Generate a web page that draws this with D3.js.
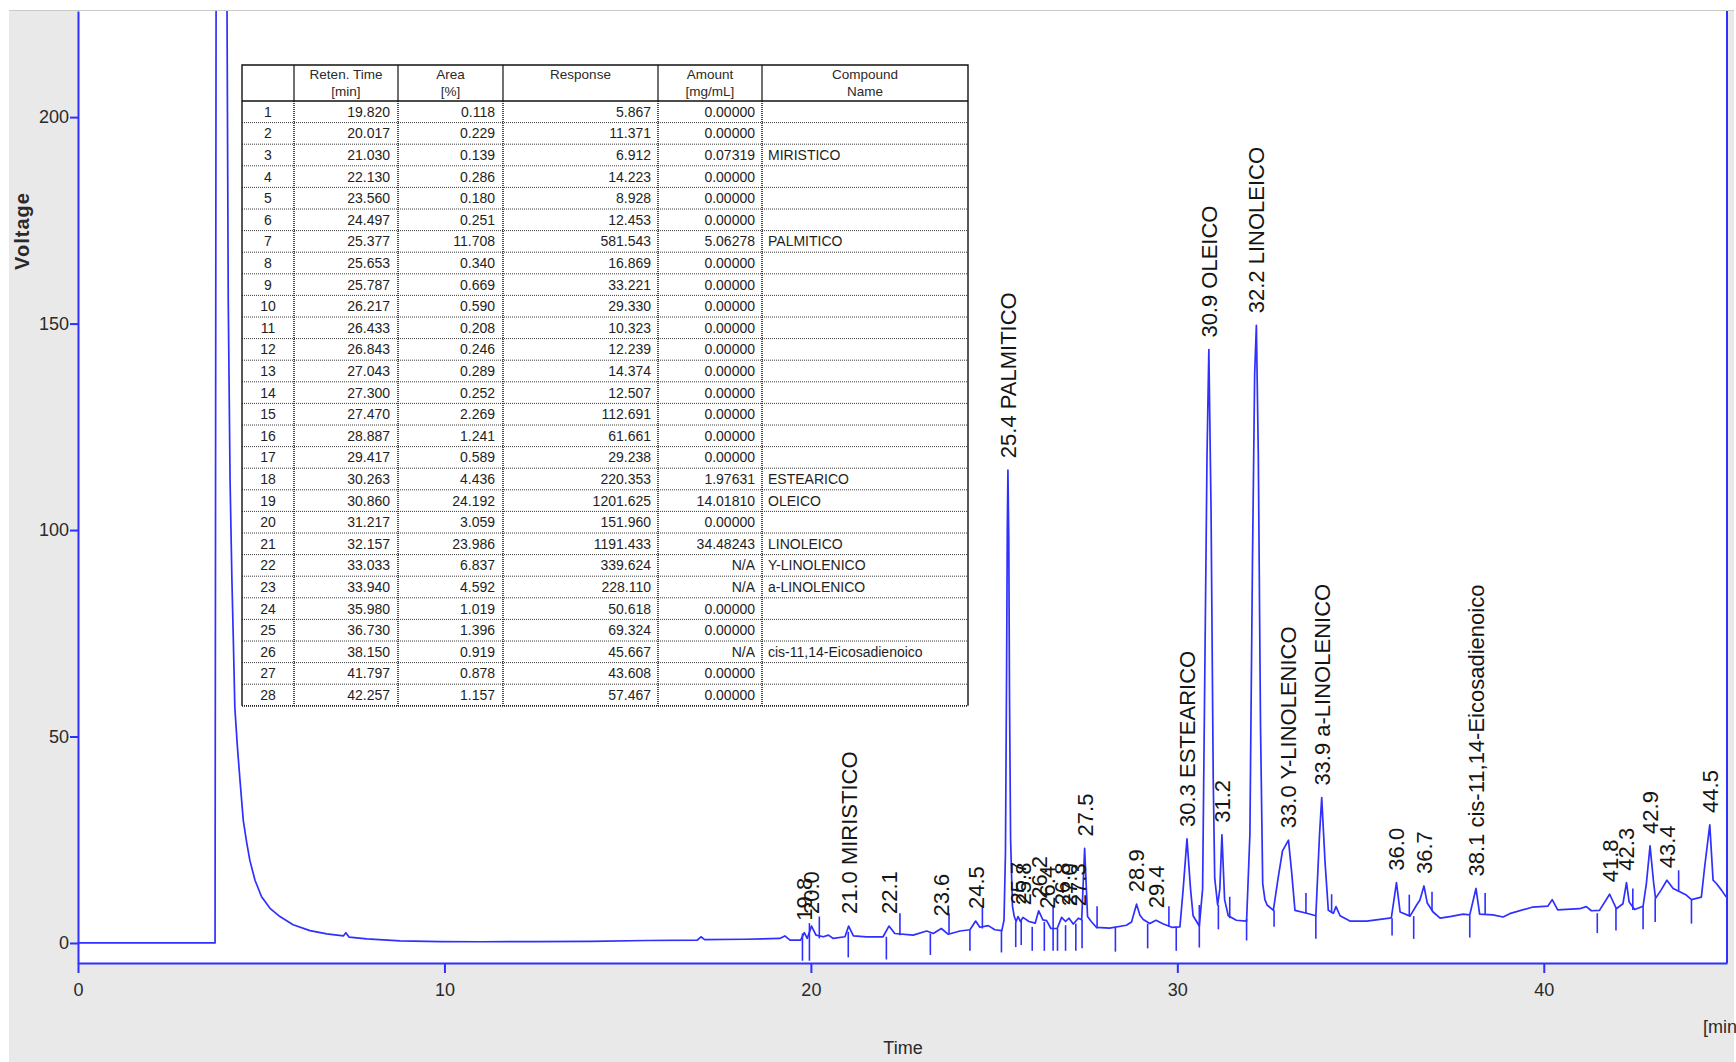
<!DOCTYPE html>
<html>
<head>
<meta charset="utf-8">
<script src="https://cdn.jsdelivr.net/npm/d3@7"></script>
<style>
  html, body { margin: 0; padding: 0; background: #ffffff; }
  svg { display: block; }
</style>
</head>
<body>
<svg id="chart" width="1736" height="1062"></svg>
<script>
// ---- Chromatogram trace: [retention time (min), detector voltage] ----
const trace = [
  [0.0, 0.0], [3.74, 0.0],
  [3.77, 240], [4.06, 240],            // solvent front, off scale
  [4.10, 156], [4.15, 112], [4.20, 88], [4.24, 73], [4.28, 57], [4.35, 47.5],
  [4.42, 39.5], [4.51, 29.7], [4.60, 24.5], [4.69, 20.0], [4.83, 15.2], [5.01, 11.2],
  [5.24, 8.4], [5.51, 6.4], [5.87, 4.4], [6.33, 3.0], [6.79, 2.2], [7.24, 1.7],
  [7.31, 2.5], [7.40, 1.4], [7.88, 1.0], [8.79, 0.5], [9.88, 0.35], [11.0, 0.3],
  [12.5, 0.35], [14.0, 0.4], [15.5, 0.6], [16.9, 0.7], [17.0, 1.5], [17.1, 0.8],
  [18.2, 0.9], [19.15, 1.1], [19.29, 1.7], [19.43, 0.7], [19.72, 0.7], [19.82, 2.5],
  [19.90, 1.1], [20.017, 4.1], [20.14, 1.9], [20.34, 1.5], [20.48, 1.9], [20.61, 1.1],
  [20.93, 1.5], [21.03, 4.1], [21.16, 1.7], [21.52, 1.5], [21.97, 1.5], [22.13, 4.1],
  [22.29, 2.3], [22.79, 1.9], [23.16, 2.9], [23.34, 2.3], [23.56, 3.5], [23.75, 2.1],
  [24.07, 2.9], [24.34, 3.2], [24.497, 5.3], [24.61, 3.8], [24.84, 4.2], [25.02, 3.2],
  [25.21, 3.0], [25.27, 5.5], [25.31, 22], [25.34, 65], [25.36, 100], [25.377, 114.5],
  [25.40, 98], [25.42, 60], [25.45, 25], [25.50, 9], [25.55, 6.4], [25.60, 5.2],
  [25.653, 6.4], [25.72, 5.2], [25.787, 6.2], [25.95, 5.2], [26.12, 4.8], [26.217, 7.8],
  [26.33, 5.6], [26.433, 5.4], [26.55, 3.5], [26.72, 3.5], [26.843, 6.2], [26.95, 5.2],
  [27.043, 6.0], [27.16, 4.6], [27.30, 6.0], [27.39, 5.6], [27.47, 22.9], [27.55, 6.4],
  [27.65, 5.2], [27.79, 3.8], [28.15, 3.6], [28.61, 4.3], [28.75, 5.1], [28.887, 9.4],
  [28.98, 6.7], [29.07, 5.7], [29.25, 4.7], [29.417, 5.5], [29.62, 4.6], [29.85, 3.8],
  [30.07, 3.9], [30.16, 13.1], [30.263, 25.2], [30.36, 13.1], [30.43, 6.6], [30.60, 4.1],
  [30.69, 13.1], [30.75, 65.6], [30.81, 118], [30.86, 143.7], [30.92, 105], [30.98, 39.4],
  [31.02, 15.7], [31.10, 9.2], [31.16, 13.1], [31.217, 26.2], [31.29, 10.5], [31.39, 6.6],
  [31.61, 5.5], [31.89, 5.3], [31.98, 26.2], [32.05, 91.9], [32.11, 137.8], [32.157, 149.6],
  [32.21, 118], [32.27, 52.5], [32.33, 14.4], [32.39, 10.5], [32.45, 9.2], [32.62, 7.9],
  [32.75, 15.7], [32.87, 22.3], [33.033, 24.9], [33.12, 17.1], [33.21, 7.9], [33.53, 7.2],
  [33.78, 6.6], [33.88, 26.2], [33.94, 35.2], [34.03, 19.7], [34.12, 7.9], [34.26, 7.2],
  [34.33, 8.8], [34.44, 6.6], [34.71, 5.3], [35.17, 5.3], [35.84, 6.1], [35.98, 14.6],
  [36.08, 7.5], [36.35, 6.5], [36.53, 9.2], [36.62, 10.4], [36.73, 13.8], [36.82, 9.7],
  [36.98, 7.5], [37.17, 6.0], [37.44, 6.4], [37.80, 7.0], [37.98, 6.8], [38.15, 13.2],
  [38.25, 7.0], [38.61, 6.8], [38.89, 6.3], [39.07, 7.1], [39.70, 8.7], [40.11, 8.9],
  [40.23, 10.5], [40.38, 8.0], [40.98, 8.3], [41.16, 8.8], [41.30, 7.8], [41.52, 7.9],
  [41.797, 11.8], [41.98, 8.3], [42.16, 9.5], [42.257, 14.6], [42.33, 9.9], [42.48, 8.1],
  [42.71, 8.9], [42.80, 14.4], [42.90, 23.5], [43.00, 14.4], [43.05, 10.8], [43.20, 12.8],
  [43.36, 15.2], [43.53, 13.2], [43.71, 12.4], [43.89, 11.6], [44.03, 10.5], [44.30, 11.1],
  [44.39, 18.4], [44.53, 28.6], [44.62, 15.2], [44.71, 14.4], [44.85, 12.8], [44.98, 11.1]
];

// ---- Integration boundary markers: [time, upper voltage, lower voltage] ----
const boundaryMarks = [
  [19.77, 2.3, -4.3], [19.96, 4.8, -4.3], [20.23, 6.4, 1.1], [21.02, 2.7, -3.5],
  [22.06, 1.5, -4.0], [22.43, 7.2, 1.9], [23.26, 2.3, -2.9], [23.77, 7.2, 2.3],
  [24.34, 3.1, -1.9], [24.68, 8.6, 3.5], [25.20, 3.1, -2.3], [25.59, 5.1, -1.0],
  [25.74, 5.6, -0.5], [26.04, 3.9, -1.9], [26.37, 5.1, -1.9], [26.61, 8.8, -1.9],
  [26.73, 3.5, -1.9], [26.95, 4.3, -1.9], [27.23, 4.7, -1.9], [27.40, 5.6, -1.3],
  [27.81, 8.9, 3.5], [28.31, 3.8, -2.1], [29.19, 4.7, -1.3], [29.77, 8.9, 3.9],
  [29.97, 3.9, -1.9], [30.60, 9.2, -1.1], [31.12, 9.2, 3.3], [31.43, 11.2, 6.0],
  [31.89, 5.8, 0.6], [32.64, 7.9, 3.9], [33.51, 12.1, 7.2], [33.78, 6.6, 1.0],
  [34.21, 11.8, 7.2], [35.86, 6.0, 1.8], [36.33, 11.7, 6.5], [36.45, 6.5, 1.0],
  [36.95, 12.4, 7.7], [37.98, 6.7, 1.3], [38.40, 12.1, 6.8], [41.46, 7.2, 2.4],
  [41.97, 8.4, 3.0], [42.43, 13.2, 8.0], [42.71, 8.9, 3.3], [43.04, 10.8, 5.1],
  [43.68, 17.6, 12.4], [44.03, 10.5, 4.7]
];

// ---- Peak annotations ----
const peakTimes = [19.820, 20.017, 21.030, 22.130, 23.560, 24.497, 25.377, 25.653, 25.787,
  26.217, 26.433, 26.843, 27.043, 27.300, 27.470, 28.887, 29.417, 30.263, 30.860, 31.217,
  32.157, 33.033, 33.940, 35.980, 36.730, 38.150, 41.797, 42.257, 42.90, 43.36, 44.53];
const peakTexts = ["19.8", "20.0", "21.0 MIRISTICO", "22.1", "23.6", "24.5", "25.4 PALMITICO",
  "25.7", "25.8", "26.2", "26.4", "26.8", "27.0", "27.3", "27.5", "28.9", "29.4",
  "30.3 ESTEARICO", "30.9 OLEICO", "31.2", "32.2 LINOLEICO", "33.0 Y-LINOLENICO",
  "33.9 a-LINOLENICO", "36.0", "36.7", "38.1 cis-11,14-Eicosadienoico", "41.8", "42.3",
  "42.9", "43.4", "44.5"];

// ---- Axis ticks ----
const xTicks = [0, 10, 20, 30, 40];
const yTicks = [0, 50, 100, 150, 200];
const xDomain = [0, 45];
const yDomain = [-4.85, 225.7];

// ---- Peak table ----
const tableHeaders = [["", ""], ["Reten. Time", "[min]"], ["Area", "[%]"], ["Response", ""],
  ["Amount", "[mg/mL]"], ["Compound", "Name"]];
const retTimes = [19.820, 20.017, 21.030, 22.130, 23.560, 24.497, 25.377, 25.653, 25.787, 26.217,
  26.433, 26.843, 27.043, 27.300, 27.470, 28.887, 29.417, 30.263, 30.860, 31.217, 32.157, 33.033,
  33.940, 35.980, 36.730, 38.150, 41.797, 42.257];
const areaPct = [0.118, 0.229, 0.139, 0.286, 0.180, 0.251, 11.708, 0.340, 0.669, 0.590, 0.208,
  0.246, 0.289, 0.252, 2.269, 1.241, 0.589, 4.436, 24.192, 3.059, 23.986, 6.837, 4.592, 1.019,
  1.396, 0.919, 0.878, 1.157];
const responses = [5.867, 11.371, 6.912, 14.223, 8.928, 12.453, 581.543, 16.869, 33.221, 29.330,
  10.323, 12.239, 14.374, 12.507, 112.691, 61.661, 29.238, 220.353, 1201.625, 151.960, 1191.433,
  339.624, 228.110, 50.618, 69.324, 45.667, 43.608, 57.467];
const amounts = ["0.00000", "0.00000", "0.07319", "0.00000", "0.00000", "0.00000", "5.06278",
  "0.00000", "0.00000", "0.00000", "0.00000", "0.00000", "0.00000", "0.00000", "0.00000",
  "0.00000", "0.00000", "1.97631", "14.01810", "0.00000", "34.48243", "N/A", "N/A", "0.00000",
  "0.00000", "N/A", "0.00000", "0.00000"];
const compoundNames = ["", "", "MIRISTICO", "", "", "", "PALMITICO", "", "", "", "", "", "", "",
  "", "", "", "ESTEARICO", "OLEICO", "", "LINOLEICO", "Y-LINOLENICO", "a-LINOLENICO", "", "",
  "cis-11,14-Eicosadienoico", "", ""];

// ================= drawing =================
const svg = d3.select("#chart");
const W = 1736, H = 1062;
const plot = { left: 78, right: 1727, top: 11, bottom: 963 };
const BLUE = "#2f2fff";
const AXIS_FONT = "'Liberation Sans', Arial, sans-serif";

const x = d3.scaleLinear().domain(xDomain).range([plot.left, plot.right]);
const y = d3.scaleLinear().domain(yDomain).range([plot.bottom, plot.top]);

// window background
svg.append("rect").attr("x", 9).attr("y", 10).attr("width", 1725).attr("height", H - 10)
  .attr("fill", "#e9e9e9");
svg.append("line").attr("x1", 9).attr("x2", 1734).attr("y1", 10.5).attr("y2", 10.5)
  .attr("stroke", "#c9c9c9").attr("stroke-width", 1);
svg.append("rect").attr("x", plot.left).attr("y", plot.top)
  .attr("width", plot.right - plot.left).attr("height", plot.bottom - plot.top)
  .attr("fill", "#ffffff");

// clip for the trace
svg.append("defs").append("clipPath").attr("id", "plotClip")
  .append("rect").attr("x", plot.left).attr("y", plot.top)
  .attr("width", plot.right - plot.left).attr("height", plot.bottom - plot.top);

const body = svg.append("g").attr("clip-path", "url(#plotClip)");

const line = d3.line().x(d => x(d[0])).y(d => y(d[1]));
body.append("path").datum(trace)
  .attr("d", line)
  .attr("fill", "none").attr("stroke", BLUE).attr("stroke-width", 1.7)
  .attr("stroke-linejoin", "round");

body.selectAll("line.mark").data(boundaryMarks).join("line")
  .attr("class", "mark")
  .attr("x1", d => x(d[0])).attr("x2", d => x(d[0]))
  .attr("y1", d => y(d[1])).attr("y2", d => y(d[2]))
  .attr("stroke", BLUE).attr("stroke-width", 1.6);

// peak labels sit just above the local apex of the trace
function apexAt(t) {
  const near = trace.filter(p => Math.abs(p[0] - t) <= 0.05);
  return d3.max(near, p => p[1]);
}
svg.append("g").selectAll("text.peak").data(peakTimes).join("text")
  .attr("class", "peak")
  .attr("transform", (t) => `translate(${x(t)},${y(apexAt(t)) - 12}) rotate(-90)`)
  .attr("dy", "0.36em")
  .attr("text-anchor", "start")
  .attr("font-family", AXIS_FONT).attr("font-size", 22).attr("fill", "#151515")
  .text((t, i) => peakTexts[i]);

// axes
const xAxis = d3.axisBottom(x).tickValues(xTicks).tickSize(10).tickSizeOuter(0).tickPadding(10)
  .tickFormat(d3.format("d"));
const yAxis = d3.axisLeft(y).tickValues(yTicks).tickSize(8).tickSizeOuter(0).tickPadding(1)
  .tickFormat(d3.format("d"));

const gx = svg.append("g").attr("transform", `translate(0,${plot.bottom})`).call(xAxis);
const gy = svg.append("g").attr("transform", `translate(${plot.left},0)`).call(yAxis);
[gx, gy].forEach(g => {
  g.select(".domain").attr("stroke", BLUE).attr("stroke-width", 2);
  g.selectAll(".tick line").attr("stroke", BLUE).attr("stroke-width", 2);
  g.selectAll(".tick text").attr("font-family", AXIS_FONT).attr("font-size", 18)
    .attr("fill", "#2a2a2a");
});
svg.append("line").attr("x1", plot.right).attr("x2", plot.right)
  .attr("y1", plot.top).attr("y2", plot.bottom)
  .attr("stroke", BLUE).attr("stroke-width", 2);

// axis titles
svg.append("text").attr("transform", "translate(29,231) rotate(-90)")
  .attr("text-anchor", "middle").attr("font-family", AXIS_FONT)
  .attr("font-size", 20).attr("font-weight", "bold").attr("letter-spacing", 1)
  .attr("fill", "#2a2a2a").text("Voltage");
svg.append("text").attr("x", 903).attr("y", 1054).attr("text-anchor", "middle")
  .attr("font-family", AXIS_FONT).attr("font-size", 18).attr("fill", "#2a2a2a").text("Time");
svg.append("text").attr("x", 1703).attr("y", 1033)
  .attr("font-family", AXIS_FONT).attr("font-size", 18).attr("fill", "#2a2a2a").text("[min]");

// ---- peak table ----
const tbl = { left: 242, top: 65, headBottom: 101, rowH: 21.6 };
const colEdges = [242, 294, 398, 503, 658, 762, 968];
const nRows = retTimes.length;
const tblBottom = tbl.headBottom + nRows * tbl.rowH;
const TFONT = "'Liberation Sans', Arial, sans-serif";
const tg = svg.append("g");

tg.append("rect").attr("x", tbl.left).attr("y", tbl.top)
  .attr("width", colEdges[6] - tbl.left).attr("height", tblBottom - tbl.top)
  .attr("fill", "#ffffff");

// row separators (dotted)
tg.selectAll("line.rowsep").data(d3.range(1, nRows + 1)).join("line")
  .attr("x1", tbl.left).attr("x2", colEdges[6])
  .attr("y1", i => tbl.headBottom + i * tbl.rowH).attr("y2", i => tbl.headBottom + i * tbl.rowH)
  .attr("stroke", "#3a3a3a").attr("stroke-width", 1).attr("stroke-dasharray", "1,1");

// column separators: solid in header, dotted in body
tg.selectAll("line.colhead").data(colEdges.slice(1, 6)).join("line")
  .attr("x1", d => d).attr("x2", d => d).attr("y1", tbl.top).attr("y2", tbl.headBottom)
  .attr("stroke", "#111").attr("stroke-width", 1.2);
tg.selectAll("line.colbody").data(colEdges.slice(1, 6)).join("line")
  .attr("x1", d => d).attr("x2", d => d).attr("y1", tbl.headBottom).attr("y2", tblBottom)
  .attr("stroke", "#222").attr("stroke-width", 1.6).attr("stroke-dasharray", "1,1");

// outer frame and header rule
tg.append("line").attr("x1", tbl.left).attr("x2", colEdges[6])
  .attr("y1", tbl.headBottom).attr("y2", tbl.headBottom).attr("stroke", "#111").attr("stroke-width", 1.4);
tg.append("path")
  .attr("d", `M${tbl.left},${tblBottom}V${tbl.top}H${colEdges[6]}V${tblBottom}`)
  .attr("fill", "none").attr("stroke", "#111").attr("stroke-width", 1.4);
tg.append("line").attr("x1", tbl.left).attr("x2", colEdges[6])
  .attr("y1", tblBottom).attr("y2", tblBottom)
  .attr("stroke", "#222").attr("stroke-width", 1.8).attr("stroke-dasharray", "1,1");

// header text
tableHeaders.forEach((lines, c) => {
  const cx = (colEdges[c] + colEdges[c + 1]) / 2;
  lines.forEach((s, k) => {
    if (!s) return;
    tg.append("text").attr("x", cx).attr("y", 79 + k * 16.5)
      .attr("text-anchor", "middle").attr("font-family", TFONT).attr("font-size", 13.5)
      .attr("fill", "#2a2a2a").text(s);
  });
});

// body text
const f3 = d3.format(".3f");
const rowY = i => tbl.headBottom + (i + 0.5) * tbl.rowH + 5;
const cellText = (arr, anchor, xpos, fmt) => {
  tg.append("g").selectAll("text").data(arr).join("text")
    .attr("x", xpos).attr("y", (d, i) => rowY(i))
    .attr("text-anchor", anchor).attr("font-family", TFONT).attr("font-size", 14)
    .attr("fill", "#1e1e1e").text(fmt);
};
cellText(retTimes, "middle", (colEdges[0] + colEdges[1]) / 2, (d, i) => i + 1);
cellText(retTimes, "end", colEdges[2] - 8, d => f3(d));
cellText(areaPct, "end", colEdges[3] - 8, d => f3(d));
cellText(responses, "end", colEdges[4] - 7, d => f3(d));
cellText(amounts, "end", colEdges[5] - 7, d => d);
cellText(compoundNames, "start", colEdges[5] + 6, d => d);
</script>
</body>
</html>
